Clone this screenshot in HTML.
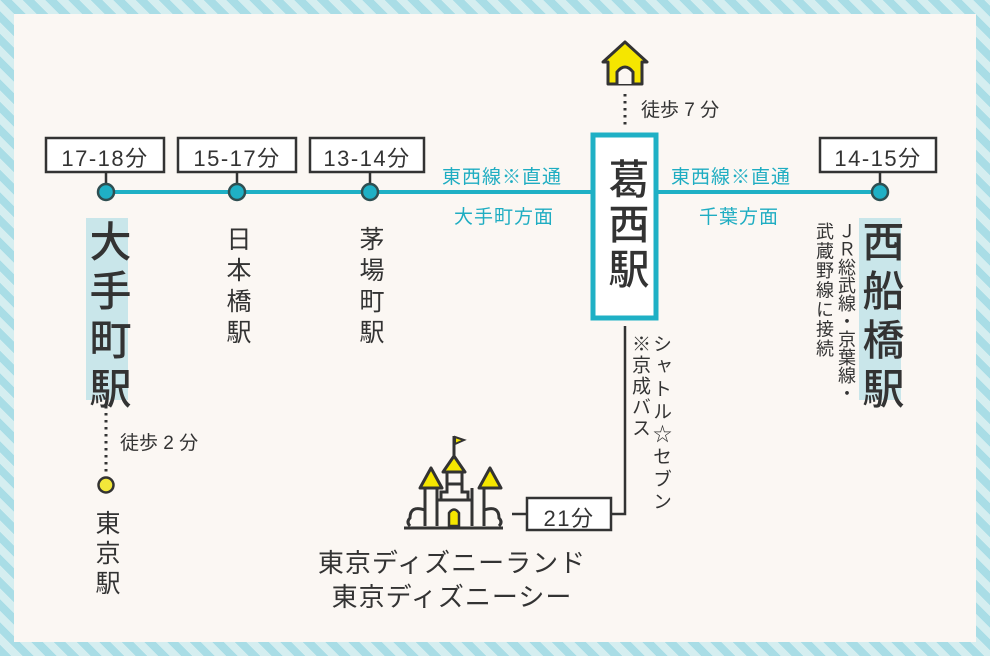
<!DOCTYPE html>
<html><head><meta charset="utf-8"><style>
body{margin:0;width:990px;height:656px;overflow:hidden;font-family:"Liberation Sans","Noto Sans CJK JP",sans-serif;color:#333;}
.bg{position:absolute;left:0;top:0;width:990px;height:656px;background:repeating-linear-gradient(45deg,#a9dde6 0 8px,#d5eef0 8px 16px);}
.panel{position:absolute;left:14px;top:14px;width:962px;height:628px;background:#fbf7f3;}
.t{position:absolute;white-space:nowrap;}
.v{position:absolute;writing-mode:vertical-rl;white-space:nowrap;}
.teal{color:#1fadc2;}
.num{letter-spacing:1.5px;}
</style></head><body>
<div class="bg"></div><div class="panel"></div>
<svg style="position:absolute;left:0;top:0" width="990" height="656">
<g stroke="#333" stroke-width="2.5">
<line x1="106" y1="172" x2="106" y2="190"/><line x1="237" y1="172" x2="237" y2="190"/>
<line x1="370" y1="172" x2="370" y2="190"/><line x1="880" y1="172" x2="880" y2="190"/>
</g>
<line x1="106" y1="192" x2="880" y2="192" stroke="#1fb0c5" stroke-width="4"/>
<g fill="#1fb0c5" stroke="#2f4f52" stroke-width="2.5">
<circle cx="106" cy="192" r="8"/><circle cx="237" cy="192" r="8"/><circle cx="370" cy="192" r="8"/><circle cx="880" cy="192" r="8"/>
</g>
<g fill="#fff" stroke="#333" stroke-width="2.5">
<rect x="46" y="138" width="118" height="34"/><rect x="178" y="138" width="118" height="34"/>
<rect x="310" y="138" width="114" height="34"/><rect x="820" y="138" width="116" height="34"/>
</g>
<rect x="593" y="135" width="63" height="183" fill="#fff" stroke="#1fb0c5" stroke-width="5"/>
<rect x="86" y="218" width="42" height="182" fill="#c9e6ea"/>
<rect x="859" y="218" width="42" height="182" fill="#c9e6ea"/>
<line x1="106" y1="406" x2="106" y2="474" stroke="#333" stroke-width="3" stroke-dasharray="2.5 4.5"/>
<circle cx="106" cy="485" r="7.5" fill="#f2e83a" stroke="#333" stroke-width="2.5"/>
<line x1="625" y1="94" x2="625" y2="126" stroke="#333" stroke-width="3" stroke-dasharray="2.5 4.5"/>
<path d="M603 62 L625 42 L647 62 L642 62 L642 84 L608 84 L608 62 Z" fill="#f5e600" stroke="#333" stroke-width="3" stroke-linejoin="round"/>
<path d="M617 84 L617 72 Q625 62 633 72 L633 84" fill="#fbf7f3" stroke="#333" stroke-width="3"/>
<polyline points="625,326 625,514 611,514" fill="none" stroke="#333" stroke-width="2.5"/>
<line x1="512" y1="514" x2="527" y2="514" stroke="#333" stroke-width="2.5"/>
<rect x="527" y="498" width="84" height="32" fill="#fff" stroke="#333" stroke-width="2.5"/>
<g stroke="#333" stroke-width="3" fill="none">
<line x1="404" y1="528" x2="503" y2="528"/>
<line x1="425" y1="488" x2="425" y2="526"/><line x1="437" y1="488" x2="437" y2="526"/>
<line x1="472" y1="488" x2="472" y2="526"/><line x1="484" y1="488" x2="484" y2="526"/>
<line x1="437" y1="500" x2="472" y2="500"/>
<polyline points="441,500 441,492 447,492 447,484 462,484 462,492 468,492 468,500"/>
<line x1="447" y1="470" x2="447" y2="484"/><line x1="462" y1="470" x2="462" y2="484"/>
<line x1="454" y1="436" x2="454" y2="456"/>
<path d="M425 510 Q410 505 410 518 Q406 522 410 526"/>
<path d="M484 510 Q499 505 499 518 Q503 522 499 526"/>
</g>
<path d="M455 437 L464 440 L455 444 Z" fill="#f5e600" stroke="#333" stroke-width="2"/>
<g fill="#f5e600" stroke="#333" stroke-width="3" stroke-linejoin="round">
<path d="M420 488 L431 468 L442 488 Z"/><path d="M479 488 L490 468 L501 488 Z"/><path d="M443 472 L454 456 L465 472 Z"/>
</g>
<path d="M449 526 L449 513 Q454 506 459 513 L459 526 Z" fill="#f5e600" stroke="#333" stroke-width="2.5"/>
</svg>
<div class="t num" style="left:46px;top:141px;width:118px;text-align:center;font-size:22px">17-18分</div>
<div class="t num" style="left:178px;top:141px;width:118px;text-align:center;font-size:22px">15-17分</div>
<div class="t num" style="left:310px;top:141px;width:114px;text-align:center;font-size:22px">13-14分</div>
<div class="t num" style="left:820px;top:141px;width:116px;text-align:center;font-size:22px">14-15分</div>
<div class="t num" style="left:527px;top:501px;width:84px;text-align:center;font-size:22px">21分</div>
<div class="t teal" style="left:442px;top:162px;font-size:19px;letter-spacing:1px">東西線※直通</div>
<div class="t teal" style="left:454px;top:202px;font-size:19px;letter-spacing:1px">大手町方面</div>
<div class="t teal" style="left:671px;top:162px;font-size:19px;letter-spacing:1px">東西線※直通</div>
<div class="t teal" style="left:699px;top:202px;font-size:19px;letter-spacing:1px">千葉方面</div>
<div class="v" style="left:603px;top:158px;font-size:41px;line-height:44px;letter-spacing:4px;font-weight:500">葛西駅</div>
<div class="v" style="left:85px;top:220px;font-size:42px;line-height:44px;letter-spacing:7px;font-weight:500">大手町駅</div>
<div class="v" style="left:858px;top:220px;font-size:42px;line-height:44px;letter-spacing:7px;font-weight:500">西船橋駅</div>
<div class="v" style="left:223px;top:226px;font-size:25px;line-height:28px;letter-spacing:6px">日本橋駅</div>
<div class="v" style="left:356px;top:226px;font-size:25px;line-height:28px;letter-spacing:6px">茅場町駅</div>
<div class="v" style="left:92px;top:510px;font-size:25px;line-height:28px;letter-spacing:5px">東京駅</div>
<div class="v" style="left:835px;top:222px;font-size:18px;line-height:22px;letter-spacing:0px">ＪＲ総武線・京葉線・</div>
<div class="v" style="left:813px;top:222px;font-size:18px;line-height:22px;letter-spacing:1.5px">武蔵野線に接続</div>
<div class="v" style="left:649px;top:334px;font-size:19px;line-height:22px;letter-spacing:3.5px">シャトル☆セブン</div>
<div class="v" style="left:628px;top:334px;font-size:19px;line-height:22px;letter-spacing:2px">※京成バス</div>
<div class="t" style="left:120px;top:428px;font-size:19px">徒歩 2 分</div>
<div class="t" style="left:641px;top:95px;font-size:19px">徒歩 7 分</div>
<div class="t" style="left:300px;top:543px;width:304px;text-align:center;font-size:26px;letter-spacing:1px">東京ディズニーランド</div>
<div class="t" style="left:300px;top:577px;width:304px;text-align:center;font-size:26px;letter-spacing:1px">東京ディズニーシー</div>
</body></html>
